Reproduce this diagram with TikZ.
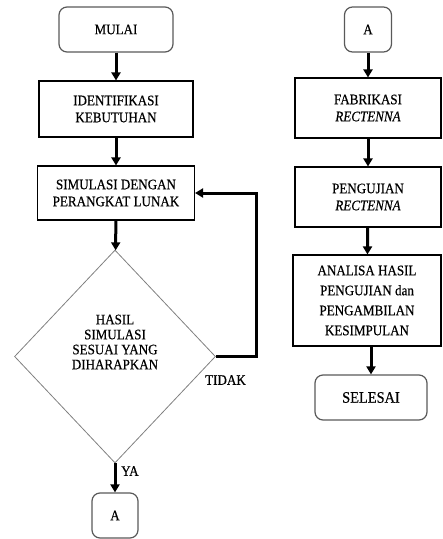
\documentclass[tikz,border=0pt]{standalone}
\usepackage{fontspec}
\setmainfont{Liberation Serif}[FakeStretch=0.9, FakeBold=0.4]
\usetikzlibrary{arrows.meta}
\usetikzlibrary{shapes}
\usetikzlibrary{positioning}

\begin{document}
\begin{tikzpicture}[x=1pt,y=-1pt]
            \tikzset{every node/.style={align=center, inner sep=0pt, font=\fontsize{14.5}{17}\selectfont},
                    >={Triangle[black,length=8pt,width=9pt]},
                    proc/.style={draw=black, line width=1.1pt},
                    term/.style={draw=black!65, line width=1.2pt, rounded corners=8pt},
                    flow/.style={draw=black, line width=3pt}}
            \useasboundingbox (0,0) rectangle (443,539);
            % kolom kiri
            \node[term, minimum width=114pt, minimum height=45pt] (mulai) at (116,29.5) {MULAI};
            \node[proc, minimum width=154pt, minimum height=56pt] (ident) at (116,109) {IDENTIFIKASI\\KEBUTUHAN};
            \node[proc, minimum width=157pt, minimum height=54pt] (sim) at (116,193) {SIMULASI DENGAN\\PERANGKAT LUNAK};
            \node[diamond, draw=black!50, line width=0.8pt, minimum width=201pt, minimum height=213pt] (cek) at (115,356.5) {};
            \node[font=\fontsize{14.5}{15}\selectfont] (cektxt) at (115,342) {HASIL\\SIMULASI\\SESUAI YANG\\DIHARAPKAN};
            \node[anchor=west] (tidak) at (205,380) {TIDAK};
            \node[anchor=west] (ya) at (121,471) {YA};
            \node[term, minimum width=46pt, minimum height=45pt] (a1) at (115,515.5) {A};
            \coordinate (balik) at (256,193);
            \path [->] (mulai) edge[flow] (ident);
            \path [->] (ident) edge[flow] (sim);
            \path [->] (sim) edge[flow] (cek);
            \path [->] (cek) edge[flow] (a1);
            \draw[flow, ->] (cek.east) -| (balik) -- (sim.east);
            % kolom kanan
            \node[term, minimum width=47pt, minimum height=45pt] (a2) at (368,29.5) {A};
            \node[proc, minimum width=146pt, minimum height=60pt] (fab) at (368,108) {FABRIKASI\\\textit{RECTENNA}};
            \node[proc, minimum width=146pt, minimum height=60pt] (uji) at (368,197) {PENGUJIAN\\\textit{RECTENNA}};
            \node[proc, minimum width=148pt, minimum height=91pt, font=\fontsize{14.5}{20}\selectfont] (anl) at (367,300.5) {ANALISA HASIL\\PENGUJIAN dan\\PENGAMBILAN\\KESIMPULAN};
            \node[term, minimum width=112pt, minimum height=45pt, font=\fontsize{16}{17}\selectfont] (sel) at (371,397.5) {SELESAI};
            \path [->] (a2) edge[flow] (fab);
            \path [->] (fab) edge[flow] (uji);
            \path [->] (uji) edge[flow] (anl);
            \path [->] (anl.south -| sel.north) edge[flow] (sel);
        \end{tikzpicture}
\end{document}
